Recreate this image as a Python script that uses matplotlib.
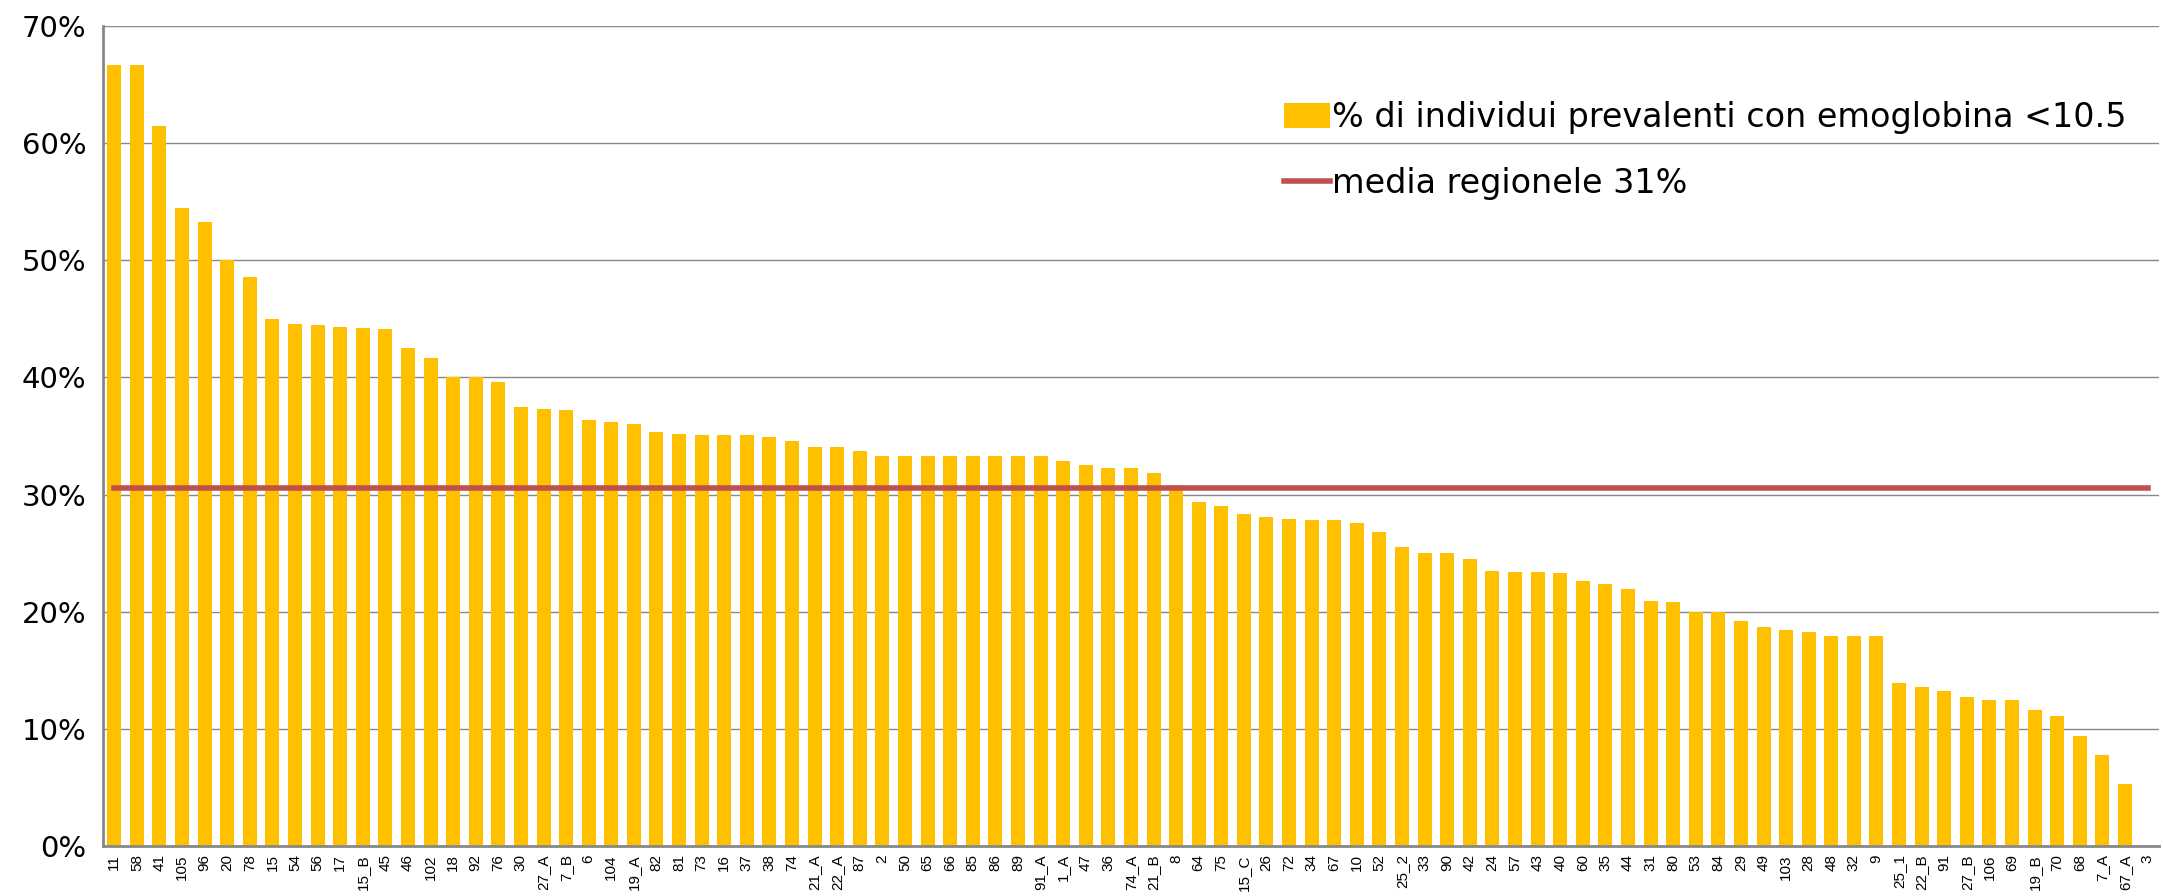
import numpy as np
import matplotlib.pyplot as plt
from matplotlib.ticker import PercentFormatter

# DATA
aree = ['11', '58', '41', '105', '96', '20', '78', '15', '54', '56', '17', '15_B', '45', '46', '102',
        '18', '92', '76', '30', '27_A', '7_B', '6', '104', '19_A', '82', '81', '73', '16', '37', '38',
        '74', '21_A', '22_A', '87', '2', '50', '65', '66', '85', '86', '89', '91_A', '1_A', '47', '36',
        '74_A', '21_B', '8', '64', '75', '15_C', '26', '72', '34', '67', '10', '52', '25_2', '33', '90',
        '42', '24', '57', '43', '40', '60', '35', '44', '31', '80', '53', '84', '29', '49', '103',
        '28', '48', '32', '9', '25_1', '22_B', '91', '27_B', '106', '69', '19_B', '70', '68', '7_A',
        '67_A', '3']
perc_hb = [66.7, 66.7, 61.5, 54.5, 53.3, 50.0, 48.6, 45.0, 44.6, 44.5, 44.3, 44.2, 44.1, 42.5, 41.7,
           40.0, 40.0, 39.6, 37.5, 37.3, 37.2, 36.4, 36.2, 36.0, 35.3, 35.2, 35.1, 35.1, 35.1, 34.9,
           34.6, 34.1, 34.1, 33.7, 33.3, 33.3, 33.3, 33.3, 33.3, 33.3, 33.3, 33.3, 32.9, 32.5, 32.3,
           32.3, 31.8, 30.8, 29.4, 29.0, 28.3, 28.1, 27.9, 27.8, 27.8, 27.6, 26.8, 25.5, 25.0, 25.0,
           24.5, 23.5, 23.4, 23.4, 23.3, 22.6, 22.4, 21.9, 20.9, 20.8, 20.0, 20.0, 19.2, 18.7, 18.4,
           18.3, 17.9, 17.9, 17.9, 13.9, 13.6, 13.2, 12.7, 12.5, 12.5, 11.6, 11.1, 9.4, 7.8,
           5.3, 0.0]
media_regionale = 30.6

x = np.arange(len(aree))
perc_hb = np.array(perc_hb) / 100
media = np.full(len(aree), media_regionale / 100)

# PLOTTING
fig = plt.figure(figsize=(21.63, 8.96), dpi=100)
ax = fig.add_axes([0.0476, 0.0558, 0.9505, 0.9152])

barre = ax.bar(x, perc_hb, width=0.62, color='#FFC000', zorder=2,
               label='% di individui prevalenti con emoglobina <10.5')
linea, = ax.plot(x, media, color='#C0504D', linewidth=4, zorder=3, label='media regionele 31%')

ax.set_xlim(-0.5, len(aree) - 0.5)
ax.set_ylim(0, 0.7)
ax.set_yticks(np.arange(0, 0.71, 0.1))
ax.yaxis.set_major_formatter(PercentFormatter(1.0, decimals=0))
ax.grid(axis='y', color='#888888', linewidth=1, zorder=0)
ax.set_axisbelow(True)

ax.set_xticks(x)
ax.set_xticklabels(aree, rotation=90, fontsize=11, family='Liberation Sans')
ax.tick_params(axis='x', length=0, pad=6)
ax.tick_params(axis='y', length=0, pad=12, labelsize=21)

for side in ['top', 'right']:
    ax.spines[side].set_visible(False)
for side in ['left', 'bottom']:
    ax.spines[side].set_color('#888888')
    ax.spines[side].set_linewidth(2)

# legend: bars first, then the regional mean
leg = ax.legend([barre, linea], [barre.get_label(), linea.get_label()],
                loc='upper left', bbox_to_anchor=(0.56, 0.945), frameon=False,
                prop={'size': 24}, handlelength=1.37, handleheight=0.8,
                handletextpad=0.05, labelspacing=1.0)

plt.savefig('out.png', dpi=100)
